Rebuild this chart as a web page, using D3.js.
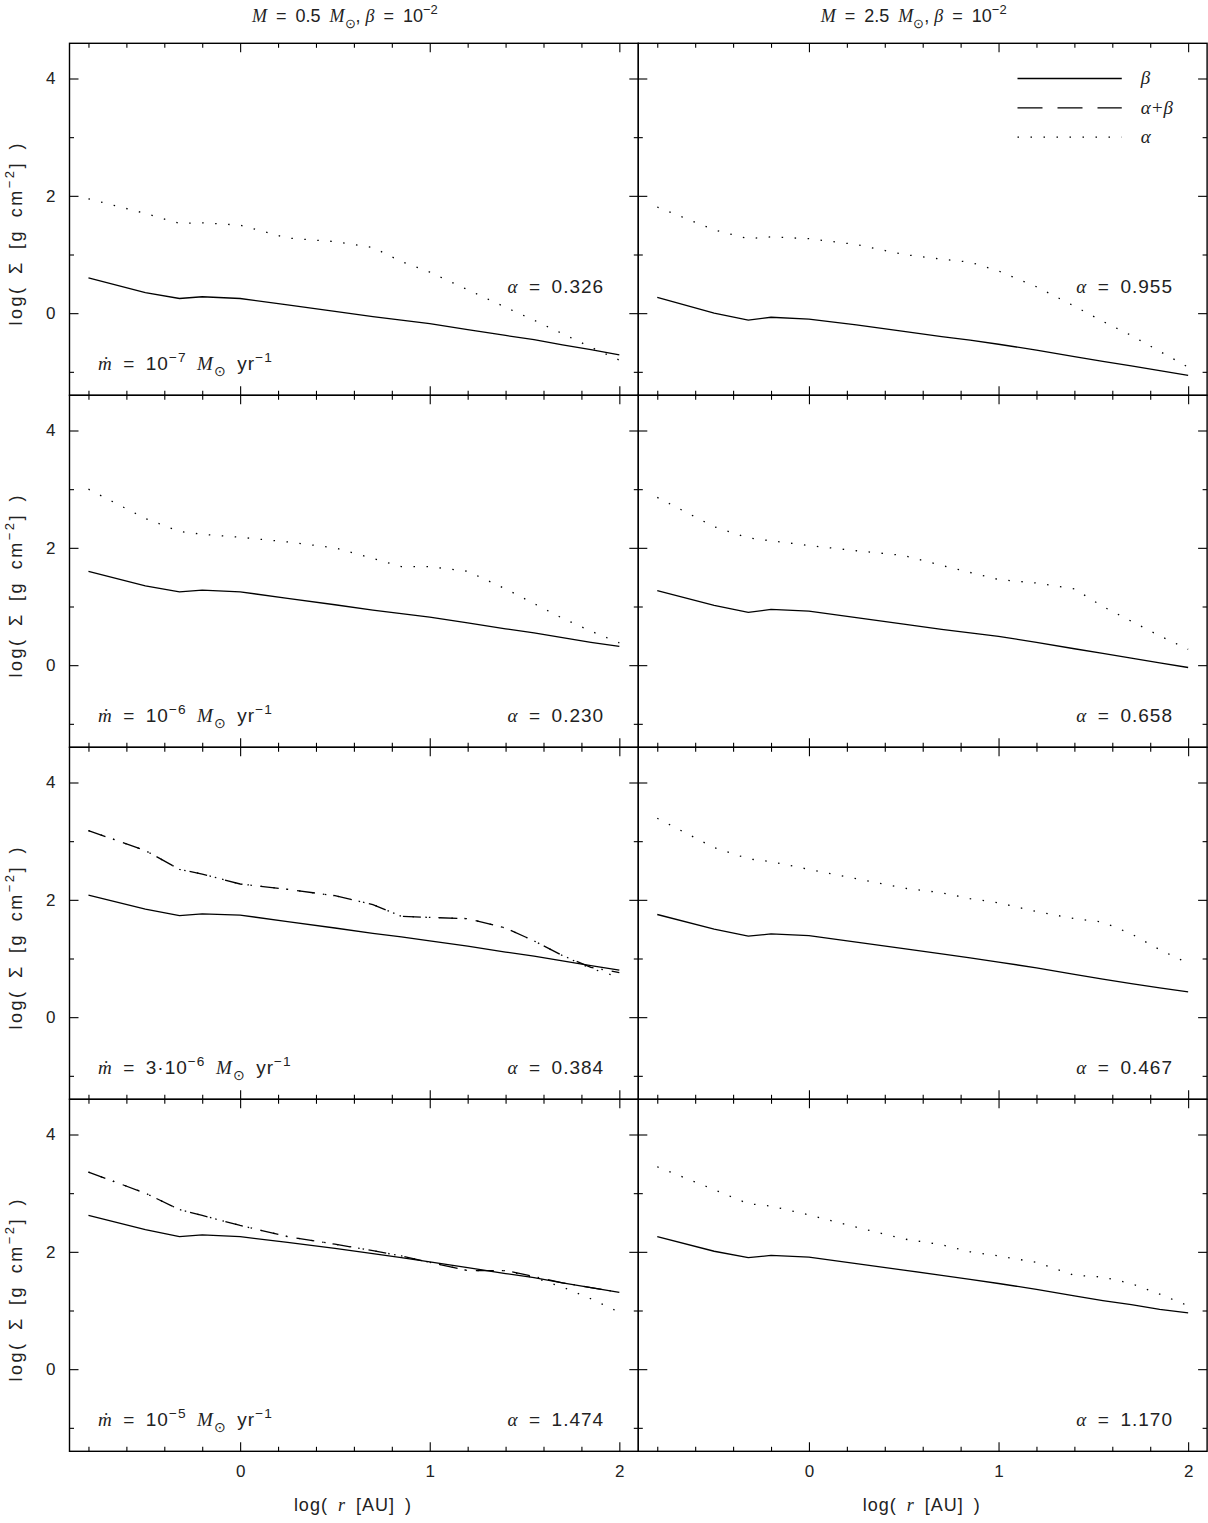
<!DOCTYPE html>
<html>
<head>
<meta charset="utf-8">
<script src="https://cdn.jsdelivr.net/npm/d3@7"></script>
<style>
  body { margin: 0; background: #fff; }
  svg { display: block; }
</style>
</head>
<body>
<svg id="chart" width="1208" height="1523"></svg>
<script>
// radius grid shared by all curves, log(r [AU])
const rGrid = [-0.8, -0.5, -0.32, -0.2, 0, 0.25, 0.5, 0.7, 0.85, 1.0, 1.2, 1.4, 1.55, 1.7, 1.85, 2.0];

// M = 0.5 Msun
const betaL1  = [0.60, 0.35, 0.25, 0.28, 0.25, 0.14, 0.03, -0.06, -0.12, -0.18, -0.28, -0.38, -0.45, -0.54, -0.62, -0.71];
const alphaL1 = [1.95, 1.70, 1.53, 1.54, 1.50, 1.28, 1.22, 1.12, 0.88, 0.70, 0.40, 0.10, -0.12, -0.35, -0.58, -0.80];
const betaL2  = [1.60, 1.35, 1.25, 1.28, 1.25, 1.14, 1.03, 0.94, 0.88, 0.82, 0.72, 0.62, 0.55, 0.47, 0.39, 0.32];
const alphaL2 = [3.00, 2.50, 2.28, 2.23, 2.18, 2.10, 2.00, 1.82, 1.68, 1.68, 1.60, 1.30, 1.05, 0.80, 0.58, 0.38];
const betaL3  = [2.08, 1.84, 1.73, 1.76, 1.74, 1.63, 1.52, 1.43, 1.37, 1.30, 1.21, 1.11, 1.04, 0.96, 0.88, 0.80];
const bothL3  = [3.18, 2.84, 2.52, 2.44, 2.27, 2.18, 2.07, 1.92, 1.72, 1.70, 1.68, 1.52, 1.30, 1.05, 0.85, 0.76];
const alphaL3 = [3.18, 2.84, 2.52, 2.44, 2.27, 2.18, 2.07, 1.92, 1.72, 1.70, 1.68, 1.52, 1.30, 1.05, 0.83, 0.68];
const betaL4  = [2.62, 2.38, 2.26, 2.29, 2.26, 2.16, 2.06, 1.97, 1.90, 1.83, 1.73, 1.63, 1.56, 1.47, 1.39, 1.31];
const bothL4  = [3.36, 3.00, 2.72, 2.62, 2.45, 2.26, 2.13, 2.02, 1.93, 1.82, 1.68, 1.68, 1.58, 1.47, 1.39, 1.31];
const alphaL4 = [3.36, 3.00, 2.72, 2.62, 2.45, 2.26, 2.13, 2.02, 1.93, 1.82, 1.68, 1.68, 1.56, 1.40, 1.20, 0.97];

// M = 2.5 Msun
const betaR1  = [0.27, 0.00, -0.12, -0.07, -0.10, -0.20, -0.31, -0.40, -0.46, -0.53, -0.63, -0.74, -0.82, -0.90, -0.98, -1.06];
const alphaR1 = [1.81, 1.42, 1.27, 1.30, 1.27, 1.17, 1.00, 0.92, 0.87, 0.72, 0.45, 0.12, -0.14, -0.38, -0.65, -0.92];
const betaR2  = [1.27, 1.02, 0.90, 0.95, 0.92, 0.81, 0.70, 0.61, 0.55, 0.49, 0.39, 0.28, 0.20, 0.12, 0.04, -0.04];
const alphaR2 = [2.86, 2.36, 2.17, 2.12, 2.04, 1.95, 1.87, 1.70, 1.58, 1.46, 1.40, 1.30, 1.00, 0.75, 0.50, 0.27];
const betaR3  = [1.75, 1.50, 1.38, 1.42, 1.39, 1.28, 1.17, 1.08, 1.01, 0.94, 0.84, 0.73, 0.65, 0.57, 0.50, 0.43];
const alphaR3 = [3.39, 2.89, 2.70, 2.65, 2.52, 2.36, 2.20, 2.12, 2.02, 1.95, 1.80, 1.68, 1.62, 1.42, 1.15, 0.92];
const betaR4  = [2.26, 2.01, 1.90, 1.94, 1.91, 1.80, 1.69, 1.60, 1.53, 1.46, 1.36, 1.25, 1.17, 1.10, 1.02, 0.96];
const alphaR4 = [3.45, 3.06, 2.82, 2.78, 2.63, 2.42, 2.22, 2.12, 2.00, 1.93, 1.82, 1.60, 1.57, 1.46, 1.28, 1.08];

const alphaLeft  = ["0.326", "0.230", "0.384", "1.474"];
const alphaRight = ["0.955", "0.658", "0.467", "1.170"];
const mdotPre    = ["10", "10", "3\u00b710", "10"];
const mdotExp    = ["\u22127", "\u22126", "\u22126", "\u22125"];
const massLabels = ["0.5", "2.5"];
const xMajor = [0, 1, 2];
const yMajor = [0, 2, 4];
const yMinor = [-1, 1, 3];

const sans = "'Liberation Sans', Arial, sans-serif";
const serif = "'Liberation Serif', 'DejaVu Serif', serif";
const EN = "\u2002";
const EQ = EN + "=" + EN;

const svg = d3.select("#chart");
const colX = [69.5, 638.3];
const rowY = [43.3, 395.3, 747.3, 1099.3];
const pw = 568.8, ph = 352;

const x = d3.scaleLinear().domain([-0.9, 2.1]).range([0, pw]);
const y = d3.scaleLinear().domain([-1.4, 4.6]).range([ph, 0]);
const xMinor = d3.range(-8, 21, 2).map(d => d / 10).filter(d => !Number.isInteger(d));

const styles = {
    solid: null,
    dotted: "1.5,11.5",
    dashdot: "18,8,1.5,9"
};

const panels = [
    [[{v: betaL1, s: "solid"}, {v: alphaL1, s: "dotted"}],
     [{v: betaR1, s: "solid"}, {v: alphaR1, s: "dotted"}]],
    [[{v: betaL2, s: "solid"}, {v: alphaL2, s: "dotted"}],
     [{v: betaR2, s: "solid"}, {v: alphaR2, s: "dotted"}]],
    [[{v: betaL3, s: "solid"}, {v: alphaL3, s: "dotted"}, {v: bothL3, s: "dashdot"}],
     [{v: betaR3, s: "solid"}, {v: alphaR3, s: "dotted"}]],
    [[{v: betaL4, s: "solid"}, {v: alphaL4, s: "dotted"}, {v: bothL4, s: "dashdot"}],
     [{v: betaR4, s: "solid"}, {v: alphaR4, s: "dotted"}]]
];

// text with italic / super / subscript pieces
function rich(sel, parts, size) {
    let shift = 0;
    parts.forEach(([t, s]) => {
        const ts = sel.append("tspan").text(t);
        const target = s === "sup" ? -0.42 * size : s === "sub" ? 0.32 * size : 0;
        ts.attr("dy", target - shift);
        shift = target;
        if (s === "sup" || s === "sub") ts.attr("font-size", size * 0.72);
        if (s === "i") ts.attr("font-family", serif).attr("font-style", "italic");
    });
    return sel;
}

const line = d3.line()
    .x((d, i) => x(rGrid[i]))
    .y(d => y(d));

panels.forEach((row, ri) => {
    row.forEach((series, ci) => {
        const g = svg.append("g").attr("transform", `translate(${colX[ci]},${rowY[ri]})`);

        series.forEach(sr => {
            g.append("path")
                .attr("d", line(sr.v))
                .attr("fill", "none")
                .attr("stroke", "#000")
                .attr("stroke-width", 1.3)
                .attr("stroke-dasharray", styles[sr.s]);
        });

        // ticks on all four sides, pointing inward
        const axes = [
            [d3.axisBottom(x), `translate(0,${ph})`, xMajor, xMinor, ri === 3],
            [d3.axisTop(x), null, xMajor, xMinor, false],
            [d3.axisLeft(y), null, yMajor, yMinor, ci === 0],
            [d3.axisRight(y), `translate(${pw},0)`, yMajor, yMinor, false]
        ];
        axes.forEach(([ax, tr, maj, min, lab]) => {
            g.append("g").attr("transform", tr)
                .call(ax.tickValues(maj).tickSize(-9).tickPadding(lab ? 14 : 0)
                    .tickFormat(lab ? d3.format("d") : ""))
                .select(".domain").remove();
            g.append("g").attr("transform", tr)
                .call(ax.tickValues(min).tickSize(-4.5).tickFormat(""))
                .select(".domain").remove();
        });
        g.selectAll(".tick line").attr("stroke", "#000").attr("stroke-width", 1.1);
        g.selectAll(".tick text").attr("font-family", sans).attr("font-size", 17).attr("fill", "#222");

        g.append("rect")
            .attr("width", pw).attr("height", ph)
            .attr("fill", "none").attr("stroke", "#000").attr("stroke-width", 1.4);

        // alpha label
        const ay = ri === 0 ? y(0.45) : y(-0.86);
        rich(g.append("text")
            .attr("x", x(1.92)).attr("y", ay + 6)
            .attr("text-anchor", "end")
            .attr("letter-spacing", 1)
            .attr("font-family", sans).attr("font-size", 19).attr("fill", "#222"),
            [["\u03b1", "i"], [EQ + (ci === 0 ? alphaLeft[ri] : alphaRight[ri])]], 19);

        if (ci === 0) {
            rich(g.append("text")
                .attr("x", x(-0.75)).attr("y", y(-0.86) + 6)
                .attr("letter-spacing", 1)
                .attr("font-family", sans).attr("font-size", 19).attr("fill", "#222"),
                [["\u1e41", "i"], [EQ + mdotPre[ri]], [mdotExp[ri], "sup"], [EN], ["M", "i"],
                 ["\u2299", "sub"], [EN + "yr"], ["\u22121", "sup"]], 19);

            // y label
            rich(g.append("text")
                .attr("transform", `translate(${22 - colX[ci]},${ph / 2 + 14}) rotate(-90)`)
                .attr("text-anchor", "middle")
                .attr("letter-spacing", 2.5)
                .attr("font-family", sans).attr("font-size", 18).attr("fill", "#222"),
                [["log(" + EN + "\u03a3" + EN + "[g" + EN + "cm"], ["\u22122", "sup"], ["]" + EN + ")"]], 18);
        }
    });
});

// column titles and x labels
massLabels.forEach((m, ci) => {
    rich(svg.append("text")
        .attr("x", colX[ci] + pw / 2 - 9).attr("y", 22)
        .attr("text-anchor", "middle")
        .attr("font-family", sans).attr("font-size", 18).attr("fill", "#222"),
        [["M", "i"], [EQ + m + EN], ["M", "i"], ["\u2299", "sub"], [", "], ["\u03b2", "i"],
         [EQ + "10"], ["\u22122", "sup"]], 18);

    rich(svg.append("text")
        .attr("x", colX[ci] + pw / 2 - 1).attr("y", 1511)
        .attr("text-anchor", "middle")
        .attr("letter-spacing", 1)
        .attr("font-family", sans).attr("font-size", 18).attr("fill", "#222"),
        [["log(" + EN], ["r", "i"], [EN + "[AU]" + EN + ")"]], 18);
});

// legend in top right panel
const legend = svg.append("g").attr("transform", `translate(${colX[1]},${rowY[0]})`);
const legItems = [["\u03b2", "solid"], ["\u03b1+\u03b2", "dashed"], ["\u03b1", "dotted"]];
const legY = [4, 3.5, 3];
legItems.forEach(([lab, st], i) => {
    legend.append("line")
        .attr("x1", x(1.1)).attr("x2", x(1.65))
        .attr("y1", y(legY[i])).attr("y2", y(legY[i]))
        .attr("stroke", "#000").attr("stroke-width", 1.3)
        .attr("stroke-dasharray", st === "dashed" ? "25,15" : styles[st]);
    legend.append("text")
        .attr("x", x(1.75)).attr("y", y(legY[i]) + 6)
        .attr("font-family", serif).attr("font-style", "italic")
        .attr("font-size", 19).attr("fill", "#222")
        .text(lab);
});
</script>
</body>
</html>
